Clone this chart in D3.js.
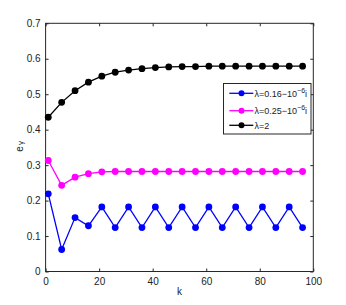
<!DOCTYPE html>
<html><head><meta charset="utf-8">
<script src="https://cdn.jsdelivr.net/npm/d3@7"></script>
<style>body{margin:0;background:#fff}svg{display:block}text{font-family:"Liberation Sans",Arial,sans-serif}</style>
</head><body>
<svg id="c" width="346" height="305"></svg>
<script>
const kValues = [1,6,11,16,21,26,31,36,41,46,51,56,61,66,71,76,81,86,91,96];
const seriesBlue = [0.219,0.062,0.152,0.129,0.182,0.124,0.182,0.124,0.182,0.124,0.182,0.124,0.182,0.124,0.182,0.124,0.182,0.124,0.182,0.124];
const seriesMagenta = [0.313,0.243,0.266,0.276,0.281,0.282,0.282,0.282,0.282,0.282,0.282,0.282,0.282,0.282,0.282,0.282,0.282,0.282,0.282,0.282];
const seriesBlack = [0.435,0.477,0.510,0.534,0.551,0.562,0.568,0.572,0.575,0.577,0.578,0.578,0.579,0.579,0.579,0.579,0.579,0.579,0.579,0.579];
const xTicks = [0,20,40,60,80,100];
const yTicks = [0,0.1,0.2,0.3,0.4,0.5,0.6,0.7];
const series = [
  {name:"blue", values:seriesBlue, color:"#0000ff"},
  {name:"magenta", values:seriesMagenta, color:"#ff00ff"},
  {name:"black", values:seriesBlack, color:"#000000"}
];
const svg = d3.select("#c");
const L=45.6, R=313.3, T=23.3, B=271.5;
const x = d3.scaleLinear().domain([0,100]).range([L,R]);
const y = d3.scaleLinear().domain([0,0.7]).range([B,T]);
const axCol="#262626";
svg.append("rect").attr("x",L).attr("y",T).attr("width",R-L).attr("height",B-T).attr("fill","none").attr("stroke",axCol).attr("stroke-width",1);
const xb = svg.append("g").attr("transform",`translate(0,${B})`).call(d3.axisBottom(x).tickValues(xTicks).tickSize(-3).tickPadding(6).tickFormat(d3.format("d")));
const xt = svg.append("g").attr("transform",`translate(0,${T})`).call(d3.axisTop(x).tickValues(xTicks).tickSize(-3).tickFormat(""));
const yl = svg.append("g").attr("transform",`translate(${L},0)`).call(d3.axisLeft(y).tickValues(yTicks).tickSize(-3).tickPadding(5).tickFormat(d=>d===0?"0":d3.format(".1f")(d)));
const yr = svg.append("g").attr("transform",`translate(${R},0)`).call(d3.axisRight(y).tickValues(yTicks).tickSize(-3).tickFormat(""));
[xb,xt,yl,yr].forEach(g=>{g.select(".domain").remove();g.selectAll("line").attr("stroke",axCol);g.selectAll("text").attr("font-size",10).attr("fill","#222").attr("font-family","Liberation Sans, Arial, sans-serif");});
svg.append("text").attr("x",(L+R)/2).attr("y",295).attr("text-anchor","middle").attr("font-size",10).attr("fill","#222").text("k");
const yt = svg.append("text").attr("transform",`translate(23,${(T+B)/2-1}) rotate(-90)`).attr("text-anchor","middle").attr("font-size",10).attr("fill","#222");
yt.append("tspan").text("e");
yt.append("tspan").attr("font-size",8).attr("dx",1).text("γ");
const line = d3.line().x((d,i)=>x(kValues[i])).y(d=>y(d));
series.forEach(s=>{
  svg.append("path").datum(s.values).attr("d",line).attr("fill","none").attr("stroke",s.color).attr("stroke-width",1.3);
  svg.selectAll(null).data(s.values).enter().append("circle").attr("cx",(d,i)=>x(kValues[i])).attr("cy",d=>y(d)).attr("r",3.4).attr("fill",s.color);
});
const lg = svg.append("g");
lg.append("rect").attr("x",223.5).attr("y",83.5).attr("width",87.5).attr("height",50.5).attr("fill","#fff").attr("stroke",axCol).attr("stroke-width",1);
const legendLabels = [["λ=0.16−10","−6","i"],["λ=0.25−10","−6","i"],["λ=2","",""]];
const ly=[93.3,110.7,125.3];
series.forEach((s,i)=>{
  lg.append("line").attr("x1",229.3).attr("x2",253.3).attr("y1",ly[i]).attr("y2",ly[i]).attr("stroke",s.color).attr("stroke-width",1.3);
  lg.append("circle").attr("cx",241.5).attr("cy",ly[i]).attr("r",3).attr("fill",s.color);
  const t = lg.append("text").attr("x",254.5).attr("y",ly[i]+3.5).attr("font-size",9).attr("fill","#222");
  t.append("tspan").text(legendLabels[i][0]);
  if(legendLabels[i][1]){
    t.append("tspan").attr("font-size",7).attr("dy",-4).text(legendLabels[i][1]);
    t.append("tspan").attr("dy",4).text(legendLabels[i][2]);
  }
});
</script>
</body></html>
